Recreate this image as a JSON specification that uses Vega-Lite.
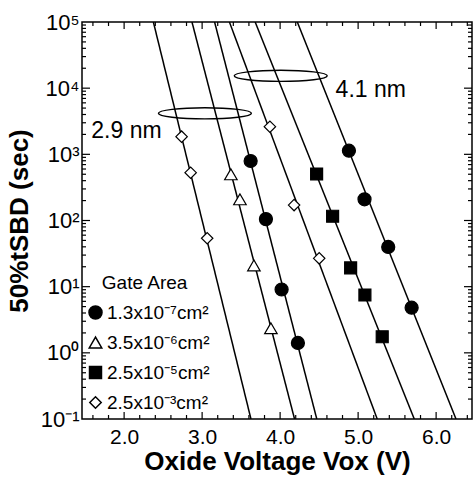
{
  "$schema": "https://vega.github.io/schema/vega-lite/v6.json",
  "width": 390,
  "height": 397,
  "autosize": {"type": "none"},
  "padding": {"left": 82, "top": 22, "right": 3, "bottom": 58},
  "background": "white",
  "config": {
    "view": {"stroke": "black", "strokeWidth": 1.5},
    "font": "Liberation Sans",
    "axis": {
      "labelFont": "Liberation Sans",
      "titleFont": "Liberation Sans",
      "labelColor": "black",
      "titleColor": "black",
      "domain": false,
      "grid": false
    },
    "legend": {"labelFont": "Liberation Sans", "titleFont": "Liberation Sans", "labelColor": "black", "titleColor": "black"}
  },
  "datasets": {
    "xmaj": [{"pos": 2}, {"pos": 3}, {"pos": 4}, {"pos": 5}, {"pos": 6}],
    "xmin": [{"pos": 1.6}, {"pos": 1.8}, {"pos": 2.2}, {"pos": 2.4}, {"pos": 2.6}, {"pos": 2.8}, {"pos": 3.2}, {"pos": 3.4}, {"pos": 3.6}, {"pos": 3.8}, {"pos": 4.2}, {"pos": 4.4}, {"pos": 4.6}, {"pos": 4.8}, {"pos": 5.2}, {"pos": 5.4}, {"pos": 5.6}, {"pos": 5.8}, {"pos": 6.2}, {"pos": 6.4}],
    "ymaj": [{"pos": 1}, {"pos": 10}, {"pos": 100}, {"pos": 1000}, {"pos": 10000}],
    "ymin": [{"pos": 0.2}, {"pos": 0.3}, {"pos": 0.4}, {"pos": 0.5}, {"pos": 0.6}, {"pos": 0.7}, {"pos": 0.8}, {"pos": 0.9},
             {"pos": 2}, {"pos": 3}, {"pos": 4}, {"pos": 5}, {"pos": 6}, {"pos": 7}, {"pos": 8}, {"pos": 9},
             {"pos": 20}, {"pos": 30}, {"pos": 40}, {"pos": 50}, {"pos": 60}, {"pos": 70}, {"pos": 80}, {"pos": 90},
             {"pos": 200}, {"pos": 300}, {"pos": 400}, {"pos": 500}, {"pos": 600}, {"pos": 700}, {"pos": 800}, {"pos": 900},
             {"pos": 2000}, {"pos": 3000}, {"pos": 4000}, {"pos": 5000}, {"pos": 6000}, {"pos": 7000}, {"pos": 8000}, {"pos": 9000},
             {"pos": 20000}, {"pos": 30000}, {"pos": 40000}, {"pos": 50000}, {"pos": 60000}, {"pos": 70000}, {"pos": 80000}, {"pos": 90000}]
  },
  "layer": [
    {
      "data": {"values": [
        {"line": "2.9 nm diamond", "V": 2.375, "t": 100000},
        {"line": "2.9 nm diamond", "V": 3.626, "t": 0.1},
        {"line": "2.9 nm triangle", "V": 2.87, "t": 100000},
        {"line": "2.9 nm triangle", "V": 4.185, "t": 0.1},
        {"line": "2.9 nm circle", "V": 3.16, "t": 100000},
        {"line": "2.9 nm circle", "V": 4.47, "t": 0.1},
        {"line": "4.1 nm diamond", "V": 3.35, "t": 100000},
        {"line": "4.1 nm diamond", "V": 5.245, "t": 0.1},
        {"line": "4.1 nm square", "V": 3.68, "t": 100000},
        {"line": "4.1 nm square", "V": 5.72, "t": 0.1},
        {"line": "4.1 nm circle", "V": 4.22, "t": 100000},
        {"line": "4.1 nm circle", "V": 6.255, "t": 0.1}
      ]},
      "mark": {"type": "line", "color": "black", "strokeWidth": 1.5, "clip": true},
      "encoding": {
        "detail": {"field": "line"},
        "x": {"field": "V", "type": "quantitative",
          "scale": {"domain": [1.46, 6.46], "nice": false, "zero": false},
          "axis": {"orient": "bottom", "values": [2, 3, 4, 5, 6], "format": ".1f", "labelFontSize": 21, "tickSize": 0, "tickColor": "transparent", "labelPadding": 7,
            "title": "Oxide Voltage Vox (V)", "titleFontSize": 26, "titleFontWeight": "bold", "titlePadding": 1}},
        "y": {"field": "t", "type": "quantitative",
          "scale": {"type": "log", "domain": [0.1, 100000], "nice": false},
          "axis": {"orient": "left", "values": [0.1, 1, 10, 100, 1000, 10000, 100000], "tickSize": 0, "tickColor": "transparent", "labelPadding": 3, "labelFontSize": 22,
            "labelExpr": "datum.value >= 50000 ? '10⁵' : datum.value >= 5000 ? '10⁴' : datum.value >= 500 ? '10³' : datum.value >= 50 ? '10²' : datum.value >= 5 ? '10¹' : datum.value >= 0.5 ? '10⁰' : '10⁻¹'",
            "title": "50%tSBD (sec)", "titleFontSize": 26, "titleFontWeight": "bold", "titlePadding": 8}}
      }
    },
    {
      "data": {"values": [
        {"area": "2.5x10⁻³cm²", "V": 2.737, "t": 1850},
        {"area": "2.5x10⁻³cm²", "V": 2.853, "t": 528},
        {"area": "2.5x10⁻³cm²", "V": 3.065, "t": 54},
        {"area": "3.5x10⁻⁶cm²", "V": 3.369, "t": 499},
        {"area": "3.5x10⁻⁶cm²", "V": 3.485, "t": 209},
        {"area": "3.5x10⁻⁶cm²", "V": 3.664, "t": 20.9},
        {"area": "3.5x10⁻⁶cm²", "V": 3.882, "t": 2.35},
        {"area": "1.3x10⁻⁷cm²", "V": 3.622, "t": 793},
        {"area": "1.3x10⁻⁷cm²", "V": 3.818, "t": 105},
        {"area": "1.3x10⁻⁷cm²", "V": 4.019, "t": 9.06},
        {"area": "1.3x10⁻⁷cm²", "V": 4.228, "t": 1.41},
        {"area": "2.5x10⁻³cm²", "V": 3.869, "t": 2617},
        {"area": "2.5x10⁻³cm²", "V": 4.179, "t": 171},
        {"area": "2.5x10⁻³cm²", "V": 4.501, "t": 26.8},
        {"area": "2.5x10⁻⁵cm²", "V": 4.468, "t": 505},
        {"area": "2.5x10⁻⁵cm²", "V": 4.673, "t": 116},
        {"area": "2.5x10⁻⁵cm²", "V": 4.904, "t": 19.2},
        {"area": "2.5x10⁻⁵cm²", "V": 5.087, "t": 7.49},
        {"area": "2.5x10⁻⁵cm²", "V": 5.309, "t": 1.75},
        {"area": "1.3x10⁻⁷cm²", "V": 4.882, "t": 1135},
        {"area": "1.3x10⁻⁷cm²", "V": 5.082, "t": 209},
        {"area": "1.3x10⁻⁷cm²", "V": 5.386, "t": 39.8},
        {"area": "1.3x10⁻⁷cm²", "V": 5.686, "t": 4.81}
      ]},
      "mark": {"type": "point", "filled": true, "stroke": "black", "strokeWidth": 1.2, "opacity": 1},
      "encoding": {
        "x": {"field": "V", "type": "quantitative"},
        "y": {"field": "t", "type": "quantitative"},
        "shape": {"field": "area", "type": "nominal",
          "scale": {"domain": ["1.3x10⁻⁷cm²", "3.5x10⁻⁶cm²", "2.5x10⁻⁵cm²", "2.5x10⁻³cm²"], "range": ["circle", "triangle-up", "square", "diamond"]},
          "legend": {"orient": "none", "legendX": 4, "legendY": 252, "title": "\u200b\u00a0\u00a0\u00a0Gate Area", "titleFontSize": 19, "titleFontWeight": "normal", "labelFontSize": 19, "rowPadding": 10, "titlePadding": 10, "labelOffset": 2,
            "encode": {"symbols": {"update": {"stroke": {"value": "black"}, "strokeWidth": {"value": 1.2}}}}}},
        "fill": {"field": "area", "type": "nominal",
          "scale": {"domain": ["1.3x10⁻⁷cm²", "3.5x10⁻⁶cm²", "2.5x10⁻⁵cm²", "2.5x10⁻³cm²"], "range": ["black", "white", "black", "white"]},
          "legend": {"orient": "none", "legendX": 4, "legendY": 252, "title": "\u200b\u00a0\u00a0\u00a0Gate Area", "titleFontSize": 19, "titleFontWeight": "normal", "labelFontSize": 19, "rowPadding": 10, "titlePadding": 10, "labelOffset": 2,
            "encode": {"symbols": {"update": {"stroke": {"value": "black"}, "strokeWidth": {"value": 1.2}}}}}},
        "size": {"field": "area", "type": "nominal",
          "scale": {"domain": ["1.3x10⁻⁷cm²", "3.5x10⁻⁶cm²", "2.5x10⁻⁵cm²", "2.5x10⁻³cm²"], "range": [170, 130, 110, 125]},
          "legend": {"orient": "none", "legendX": 4, "legendY": 252, "title": "\u200b\u00a0\u00a0\u00a0Gate Area", "titleFontSize": 19, "titleFontWeight": "normal", "labelFontSize": 19, "rowPadding": 10, "titlePadding": 10, "labelOffset": 2,
            "encode": {"symbols": {"update": {"stroke": {"value": "black"}, "strokeWidth": {"value": 1.2}}}}}}
      }
    },
    {
      "data": {"values": [
        {"label": "2.9 nm", "V": 3.036, "t": 4170},
        {"label": "4.1 nm", "V": 4.008, "t": 15380}
      ]},
      "mark": {"type": "point", "shape": "M -1 0 A 1 0.12 0 1 1 1 0 A 1 0.12 0 1 1 -1 0 Z", "size": 8650, "filled": false, "stroke": "black", "strokeWidth": 1.4, "opacity": 1},
      "encoding": {
        "x": {"field": "V", "type": "quantitative"},
        "y": {"field": "t", "type": "quantitative"}
      }
    },
    {
      "data": {"values": [
        {"label": "2.9 nm", "V": 2.03, "t": 2254},
        {"label": "4.1 nm", "V": 5.162, "t": 9370}
      ]},
      "mark": {"type": "text", "fontSize": 23, "font": "Liberation Sans", "color": "black", "align": "center", "baseline": "middle"},
      "encoding": {
        "text": {"field": "label"},
        "x": {"field": "V", "type": "quantitative"},
        "y": {"field": "t", "type": "quantitative"}
      }
    },
    {
      "data": {"name": "xmaj"},
      "mark": {"type": "rule", "color": "black", "strokeWidth": 1.2},
      "encoding": {
        "x": {"field": "pos", "type": "quantitative"},
        "y": {"datum": 0.1, "type": "quantitative"},
        "y2": {"datum": 0.1276}
      }
    },
    {
      "data": {"name": "xmin"},
      "mark": {"type": "rule", "color": "black", "strokeWidth": 1.2},
      "encoding": {
        "x": {"field": "pos", "type": "quantitative"},
        "y": {"datum": 0.1, "type": "quantitative"},
        "y2": {"datum": 0.1149}
      }
    },
    {
      "data": {"name": "xmaj"},
      "mark": {"type": "rule", "color": "black", "strokeWidth": 1.2},
      "encoding": {
        "x": {"field": "pos", "type": "quantitative"},
        "y": {"datum": 100000, "type": "quantitative"},
        "y2": {"datum": 78370}
      }
    },
    {
      "data": {"name": "xmin"},
      "mark": {"type": "rule", "color": "black", "strokeWidth": 1.2},
      "encoding": {
        "x": {"field": "pos", "type": "quantitative"},
        "y": {"datum": 100000, "type": "quantitative"},
        "y2": {"datum": 87020}
      }
    },
    {
      "data": {"name": "ymaj"},
      "mark": {"type": "rule", "color": "black", "strokeWidth": 1.2},
      "encoding": {
        "y": {"field": "pos", "type": "quantitative"},
        "x": {"datum": 1.46, "type": "quantitative"},
        "x2": {"datum": 1.5626}
      }
    },
    {
      "data": {"name": "ymin"},
      "mark": {"type": "rule", "color": "black", "strokeWidth": 1.2},
      "encoding": {
        "y": {"field": "pos", "type": "quantitative"},
        "x": {"datum": 1.46, "type": "quantitative"},
        "x2": {"datum": 1.5113}
      }
    },
    {
      "data": {"name": "ymaj"},
      "mark": {"type": "rule", "color": "black", "strokeWidth": 1.2},
      "encoding": {
        "y": {"field": "pos", "type": "quantitative"},
        "x": {"datum": 6.46, "type": "quantitative"},
        "x2": {"datum": 6.3574}
      }
    },
    {
      "data": {"name": "ymin"},
      "mark": {"type": "rule", "color": "black", "strokeWidth": 1.2},
      "encoding": {
        "y": {"field": "pos", "type": "quantitative"},
        "x": {"datum": 6.46, "type": "quantitative"},
        "x2": {"datum": 6.4087}
      }
    }
  ]
}
